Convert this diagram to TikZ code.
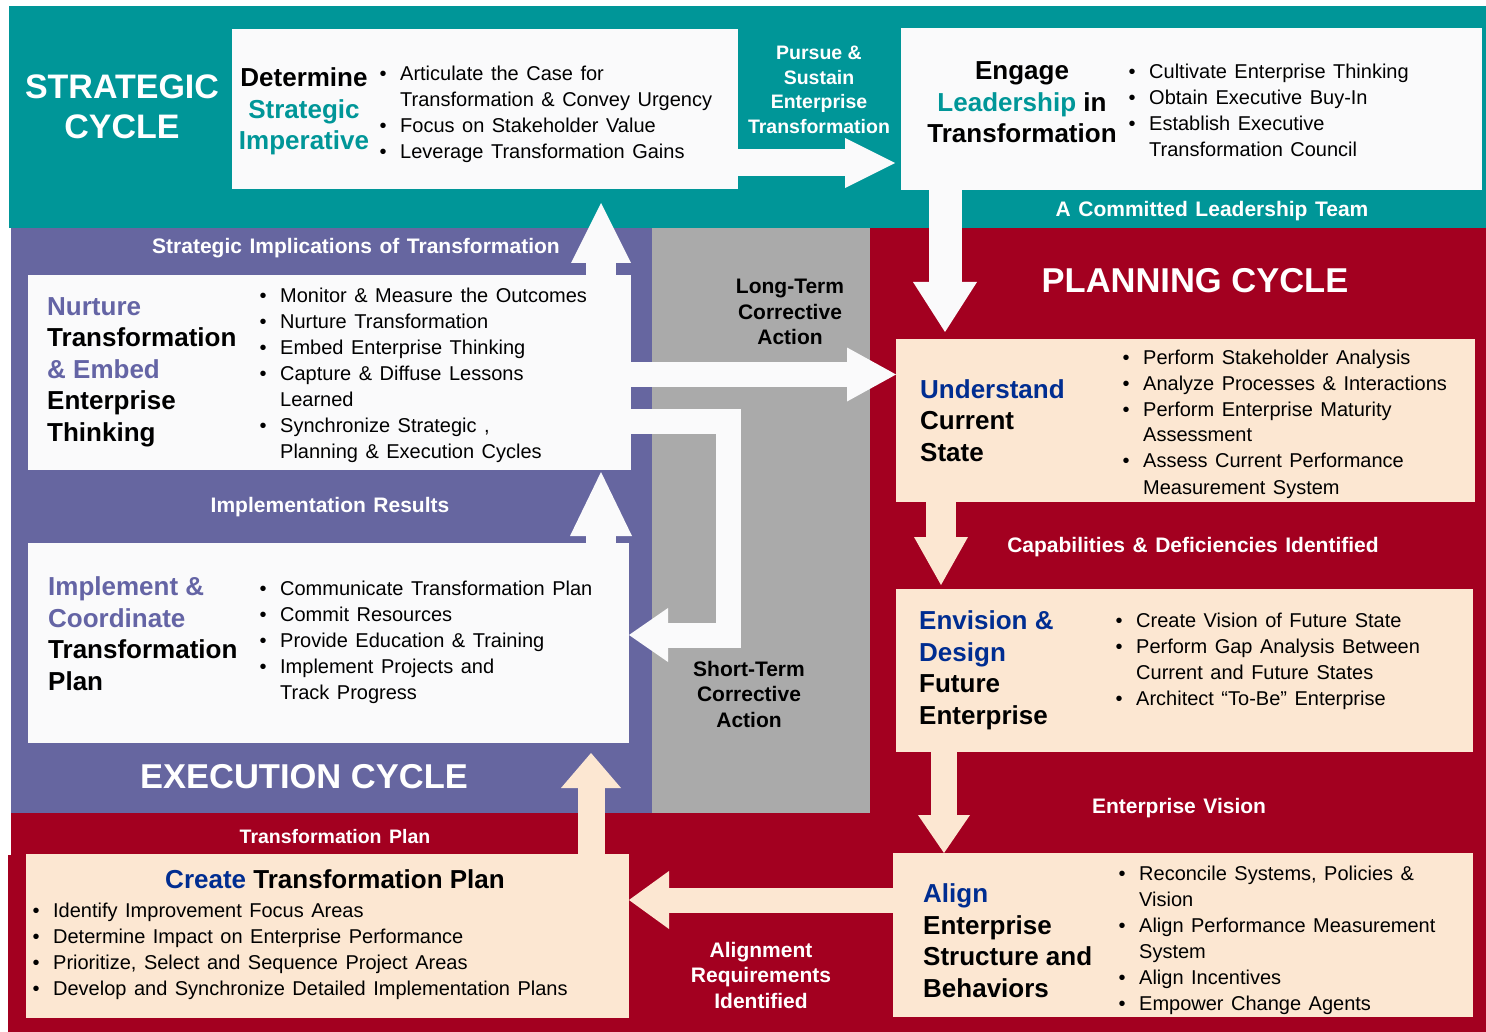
\documentclass[tikz,border=0pt]{standalone}
\usepackage{fontspec}
\setmainfont{Liberation Sans}
\usetikzlibrary{arrows.meta}
\definecolor{cycteal}{RGB}{0,150,152}
\definecolor{cycpurple}{RGB}{102,102,160}
\definecolor{cycgrey}{RGB}{170,170,170}
\definecolor{cycred}{RGB}{163,0,32}
\definecolor{boxpeach}{RGB}{252,231,210}
\definecolor{boxwhite}{RGB}{250,250,251}
\definecolor{ttlblue}{RGB}{0,45,145}
\definecolor{ttlpurple}{RGB}{100,100,165}
\newcommand{\widesp}{\spaceskip=7.5pt plus 2pt minus 1pt\relax}
\newcommand{\bul}{\par\noindent\widesp\hangindent=17pt\hangafter=1\makebox[17pt][l]{\kern-3.5pt\textbullet}}
\newcommand{\lbrk}{\hfil\break}

\begin{document}
\begin{tikzpicture}[x=1pt,y=-1pt,
  bx/.style={anchor=north west,inner sep=0pt,outer sep=0pt},
  wbox/.style={bx,fill=boxwhite},
  pbox/.style={bx,fill=boxpeach},
  ttl/.style={anchor=base west,inner sep=0pt,align=left,font=\bfseries\fontsize{26}{31.5}\selectfont},
  ttlc/.style={anchor=base,inner sep=0pt,align=center,font=\bfseries\fontsize{26}{31.5}\selectfont},
  blist/.style={anchor=base west,inner sep=0pt,align=left,font=\fontsize{20}{26}\selectfont\widesp},
  lbl/.style={inner sep=0pt,align=center,text=white,font=\bfseries\fontsize{21}{25.5}\selectfont\widesp},
  hdr/.style={inner sep=0pt,align=center,text=white,font=\bfseries\fontsize{34}{40}\selectfont},
  fat/.style n args={4}{color=#1,line width=#2,line join=miter,-{Triangle[width=#3,length=#4,line width=0pt]}}]
\useasboundingbox (0,0) rectangle (1486,1032);
\fill[white] (0,0) rectangle (1486,1032);
\fill[cycteal] (9,6) rectangle (1486,228);
\fill[cycpurple] (11,228) rectangle (652,813);
\fill[cycgrey] (652,228) rectangle (870,813);
\fill[cycred] (870,228) rectangle (1486,1032);
\fill[cycred] (11,813) rectangle (870,1032);
\fill[cycred] (8,855) rectangle (870,1032);

\node[wbox,minimum width=506pt,minimum height=160pt] (det) at (232,29) {};
\node[wbox,minimum width=581pt,minimum height=162pt] (eng) at (901,28) {};
\node[wbox,minimum width=603pt,minimum height=195pt] (nur) at (28,275) {};
\node[wbox,minimum width=601pt,minimum height=200pt] (imp) at (28,543) {};
\node[pbox,minimum width=579pt,minimum height=163pt] (und) at (896,339) {};
\node[pbox,minimum width=577pt,minimum height=163pt] (env) at (896,589) {};
\node[pbox,minimum width=580pt,minimum height=164pt] (ali) at (893,853) {};
\node[pbox,minimum width=603pt,minimum height=164pt] (cre) at (26,854) {};

\draw[fat={boxwhite}{27pt}{50pt}{50pt},shorten >=6pt] ([yshift=26pt]det.south east) -- ([yshift=27pt]eng.south west);
\draw[fat={boxwhite}{30pt}{60pt}{60pt},shorten >=14pt] ([xshift=-30pt]nur.north east) -- ([xshift=-30pt]nur.north east |- det.south);
\draw[fat={boxwhite}{30pt}{62pt}{64pt},shorten >=2pt] ([xshift=-28pt]imp.north east) -- ([xshift=-28pt]imp.north east |- nur.south);
\draw[fat={boxpeach}{27pt}{60pt}{35pt},shorten >=10pt] ([xshift=-38pt]cre.north east) -- ([xshift=-38pt]cre.north east |- imp.south);
\draw[fat={boxwhite}{25pt}{54pt}{49pt}] ([yshift=-2pt]nur.east) -- ([yshift=-2pt]nur.east -| und.west);
\coordinate (stc) at (728,421);
\draw[fat={boxwhite}{25pt}{54pt}{39pt}] (nur.east |- stc) -- (stc) |- ([yshift=8pt]imp.east);
\draw[fat={boxwhite}{33pt}{64pt}{50pt},shorten >=7pt] ([xshift=44pt]eng.south west) -- ([xshift=44pt]eng.south west |- und.north);
\draw[fat={boxpeach}{30pt}{54pt}{48pt},shorten >=4pt] ([xshift=45pt]und.south west) -- ([xshift=45pt]und.south west |- env.north);
\draw[fat={boxpeach}{26pt}{52pt}{38pt}] ([xshift=48pt]env.south west) -- ([xshift=48pt]env.south west |- ali.north);
\draw[fat={boxpeach}{25pt}{58pt}{40pt}] ([yshift=35pt]ali.west) -- ([yshift=35pt]ali.west -| cre.east);

\node[hdr] (strc) at (122,107) {STRATEGIC\\CYCLE};
\node[hdr,font=\bfseries\fontsize{34.5}{40}\selectfont] (plnc) at (1195,281) {PLANNING CYCLE};
\node[hdr,font=\bfseries\fontsize{34.5}{40}\selectfont] (exec) at (304,777) {EXECUTION CYCLE};
\node[lbl,font=\bfseries\fontsize{19.5}{24.5}\selectfont] (pur) at (819,90) {Pursue \&\\Sustain\\Enterprise\\Transformation};
\node[lbl] (clt) at (1212,211) {A Committed Leadership Team};
\node[lbl] (sit) at (356,248) {Strategic Implications of Transformation};
\node[lbl,text=black] (ltca) at (790,312) {Long-Term\\Corrective\\Action};
\node[lbl] (irs) at (330,507) {Implementation Results};
\node[lbl] (cdi) at (1193,547) {Capabilities \& Deficiencies Identified};
\node[lbl,text=black] (stca) at (749,694) {Short-Term\\Corrective\\Action};
\node[lbl] (evs) at (1179,808) {Enterprise Vision};
\node[lbl,font=\bfseries\fontsize{19.5}{24}\selectfont\widesp] (tpl) at (335,837) {Transformation Plan};
\node[lbl] (ari) at (761,975) {Alignment\\Requirements\\Identified};

\node[ttlc] (detT) at (304,150) {Determine\\\textcolor{cycteal}{Strategic}\\\textcolor{cycteal}{Imperative}};
\node[blist,text width=360pt] (detL) at (383,55) {\bul Articulate the Case for\lbrk Transformation \& Convey Urgency\bul Focus on Stakeholder Value\bul Leverage Transformation Gains\par};
\node[ttlc] (engT) at (1022,143) {Engage\\\textcolor{cycteal}{Leadership} in\\Transformation};
\node[blist,text width=330pt] (engL) at (1132,53) {\bul Cultivate Enterprise Thinking\bul Obtain Executive Buy-In\bul Establish Executive\lbrk Transformation Council\par};
\node[ttl] (nurT) at (47,441) {\textcolor{ttlpurple}{Nurture}\\Transformation\\\textcolor{ttlpurple}{\& Embed}\\Enterprise\\Thinking};
\node[blist,text width=360pt] (nurL) at (263,277) {\bul Monitor \& Measure the Outcomes\bul Nurture Transformation\bul Embed Enterprise Thinking\bul Capture \& Diffuse Lessons\lbrk Learned\bul Synchronize Strategic ,\lbrk Planning \& Execution Cycles\par};
\node[ttl] (impT) at (48,690) {\textcolor{ttlpurple}{Implement \&}\\\textcolor{ttlpurple}{Coordinate}\\Transformation\\Plan};
\node[blist,text width=360pt] (impL) at (263,569) {\bul Communicate Transformation Plan\bul Commit Resources\bul Provide Education \& Training\bul Implement Projects and\lbrk Track Progress\par};
\node[ttl] (undT) at (920,461) {\textcolor{ttlblue}{Understand}\\Current\\State};
\node[blist,text width=345pt] (undL) at (1126,338) {\bul Perform Stakeholder Analysis\bul Analyze Processes \& Interactions\bul Perform Enterprise Maturity\lbrk Assessment\bul Assess Current Performance\lbrk Measurement System\par};
\node[ttl] (envT) at (919,724) {\textcolor{ttlblue}{Envision \&}\\\textcolor{ttlblue}{Design}\\Future\\Enterprise};
\node[blist,text width=350pt] (envL) at (1119,601) {\bul Create Vision of Future State\bul Perform Gap Analysis Between\lbrk Current and Future States\bul Architect ``To-Be'' Enterprise\par};
\node[ttl] (aliT) at (923,997) {\textcolor{ttlblue}{Align}\\Enterprise\\Structure and\\Behaviors};
\node[blist,text width=345pt] (aliL) at (1122,854) {\bul Reconcile Systems, Policies \&\lbrk Vision\bul Align Performance Measurement\lbrk System\bul Align Incentives\bul Empower Change Agents\par};
\node[ttlc] (creT) at (335,888) {\textcolor{ttlblue}{Create} Transformation Plan};
\node[blist,text width=590pt] (creL) at (36,891) {\bul Identify Improvement Focus Areas\bul Determine Impact on Enterprise Performance\bul Prioritize, Select and Sequence Project Areas\bul Develop and Synchronize Detailed Implementation Plans\par};
\end{tikzpicture}
\end{document}
